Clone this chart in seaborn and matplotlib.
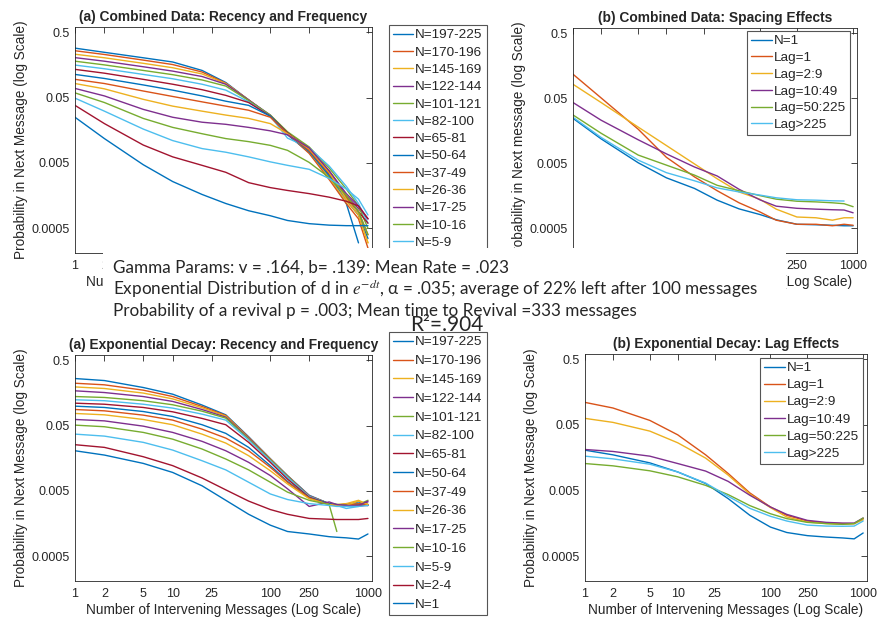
import numpy as np
import pandas as pd
import seaborn as sns
import matplotlib.pyplot as plt
from matplotlib.patches import Rectangle
from matplotlib.ticker import NullLocator

nan = np.nan

# x positions (number of intervening messages)
x_grid = [1, 2, 5, 10, 20, 35, 60, 100, 150, 250, 400, 600, 800, 1000]
x_grid_exp = [1, 2, 5, 10, 20, 35, 60, 100, 150, 250, 400, 480, 600, 800, 1000]

groups = ["N=197-225", "N=170-196", "N=145-169", "N=122-144", "N=101-121",
          "N=82-100", "N=65-81", "N=50-64", "N=37-49", "N=26-36", "N=17-25",
          "N=10-16", "N=5-9", "N=2-4", "N=1"]
lag_groups = ["N=1", "Lag=1", "Lag=2:9", "Lag=10:49", "Lag=50:225", "Lag>225"]

# (a) combined data: recency and frequency
rec_n197 = [0.285, 0.246, 0.203, 0.175, 0.13, 0.085, 0.046, 0.026, 0.0135, 0.0072, 0.0030, 0.0012, 0.0003, nan]
rec_n170 = [0.26, 0.228, 0.187, 0.16, 0.123, 0.083, 0.046, 0.026, 0.014, 0.0070, 0.0028, 0.0012, 0.0007, 0.00025]
rec_n145 = [0.23, 0.203, 0.167, 0.143, 0.115, 0.082, 0.046, 0.026, 0.014, 0.0075, 0.0030, 0.0013, 0.0008, 0.0003]
rec_n122 = [0.204, 0.18, 0.148, 0.127, 0.105, 0.08, 0.046, 0.027, 0.0145, 0.0085, 0.0038, 0.0016, 0.0010, 0.0007]
rec_n101 = [0.18, 0.158, 0.13, 0.112, 0.093, 0.075, 0.045, 0.027, 0.015, 0.0088, 0.0042, 0.0020, 0.0011, 0.0005]
rec_n82 = [0.157, 0.138, 0.113, 0.097, 0.08, 0.065, 0.043, 0.026, 0.012, 0.0085, 0.0045, 0.0022, 0.0012, 0.0006]
rec_n65 = [0.135, 0.118, 0.095, 0.08, 0.066, 0.054, 0.042, 0.026, 0.0145, 0.0078, 0.0034, 0.0015, 0.0009, 0.0006]
rec_n50 = [0.113, 0.098, 0.078, 0.065, 0.053, 0.044, 0.038, 0.026, 0.014, 0.0075, 0.0032, 0.0014, 0.0008, 0.00035]
rec_n37 = [0.095, 0.082, 0.063, 0.052, 0.043, 0.037, 0.032, 0.025, 0.014, 0.0078, 0.0035, 0.0015, 0.0009, 0.0004]
rec_n26 = [0.082, 0.068, 0.047, 0.037, 0.031, 0.027, 0.024, 0.020, 0.014, 0.0082, 0.0036, 0.0014, 0.0008, 0.0003]
rec_n17 = [0.069, 0.053, 0.033, 0.025, 0.021, 0.0195, 0.0175, 0.0155, 0.0135, 0.0085, 0.0038, 0.0017, 0.0011, 0.0007]
rec_n10 = [0.059, 0.042, 0.024, 0.0175, 0.014, 0.0118, 0.0106, 0.0093, 0.0078, 0.0051, 0.0030, 0.0016, 0.0009, 0.0004]
rec_n5 = [0.049, 0.031, 0.0165, 0.011, 0.0083, 0.0073, 0.0062, 0.0052, 0.0046, 0.0040, 0.0029, 0.0020, 0.0014, 0.0008]
rec_n2 = [0.038, 0.020, 0.0094, 0.0062, 0.0046, 0.0036, 0.0025, 0.0021, 0.0019, 0.0017, 0.0015, 0.0013, 0.0011, 0.0007]
rec_n1 = [0.025, 0.0118, 0.0047, 0.0026, 0.00165, 0.0012, 0.00093, 0.00078, 0.00066, 0.00059, 0.00056, 0.00055, 0.00055, 0.00055]

# (b) combined data: spacing effects
sp_n1 = [0.0246, 0.0119, 0.0051, 0.0030, 0.00206, 0.00136, 0.0010, 0.00082, 0.00068, 0.00058, 0.00057, 0.00056, 0.00055, 0.00055]
sp_lag1 = [0.117, 0.0506, 0.0167, 0.0062, 0.0031, 0.0019, 0.00124, 0.0009, 0.00067, 0.00058, 0.00058, 0.00055, 0.00058, 0.00056]
sp_lag2 = [0.082, 0.043, 0.018, 0.0094, 0.0049, 0.0029, 0.00182, 0.00141, 0.00099, 0.00075, 0.00073, 0.00067, 0.00073, 0.00073]
sp_lag10 = [0.043, 0.023, 0.0115, 0.0070, 0.0044, 0.0032, 0.0020, 0.00138, 0.0011, 0.00102, 0.00099, 0.00097, 0.00096, 0.00087]
sp_lag50 = [0.0277, 0.0145, 0.0067, 0.0047, 0.0033, 0.0023, 0.0019, 0.0016, 0.00141, 0.00131, 0.00128, 0.00124, 0.0012, 0.00108]
sp_lag225 = [0.0255, 0.0125, 0.0056, 0.0036, 0.0027, 0.0021, 0.00182, 0.00163, 0.00148, 0.00138, 0.00136, 0.00133, 0.00132, nan]

# (a) exponential decay model: recency and frequency
exp_n197 = [0.262, 0.244, 0.191, 0.151, 0.103, 0.073, 0.0337, 0.0156, 0.0086, 0.0043, 0.0032, 0.0031, 0.0031, 0.0034, 0.0031]
exp_n170 = [0.222, 0.210, 0.174, 0.139, 0.098, 0.0714, 0.033, 0.0154, 0.0085, 0.0042, 0.0032, 0.0030, 0.0032, 0.0031, 0.0031]
exp_n145 = [0.195, 0.1845, 0.157, 0.128, 0.0935, 0.0698, 0.0322, 0.0152, 0.0085, 0.0042, 0.0032, 0.0031, 0.0032, 0.0036, 0.0031]
exp_n122 = [0.170, 0.160, 0.139, 0.117, 0.088, 0.0673, 0.0318, 0.015, 0.0084, 0.0042, 0.0032, 0.0030, 0.0030, 0.0031, 0.0034]
exp_n101 = [0.139, 0.1345, 0.120, 0.104, 0.083, 0.065, 0.031, 0.0149, 0.0083, 0.0041, 0.0032, 0.0031, 0.0030, 0.0031, 0.0036]
exp_n82 = [0.124, 0.120, 0.106, 0.0925, 0.0748, 0.0606, 0.030, 0.0145, 0.0081, 0.0041, 0.0032, 0.0030, 0.0027, 0.0029, 0.0031]
exp_n65 = [0.110, 0.106, 0.0946, 0.0812, 0.0643, 0.0515, 0.0277, 0.0137, 0.0076, 0.0040, 0.0032, 0.0030, 0.0030, 0.0030, 0.0030]
exp_n50 = [0.099, 0.0946, 0.082, 0.0689, 0.0515, 0.038, 0.0232, 0.0122, 0.0070, 0.0039, 0.0032, 0.0030, 0.0030, 0.0032, 0.0030]
exp_n37 = [0.088, 0.084, 0.0722, 0.0606, 0.0441, 0.0322, 0.0206, 0.0115, 0.0068, 0.0039, 0.0031, 0.0030, 0.0030, 0.0032, 0.0031]
exp_n26 = [0.0766, 0.073, 0.062, 0.0515, 0.037, 0.027, 0.0173, 0.0102, 0.0064, 0.0038, 0.0031, 0.0030, 0.0030, 0.0035, 0.0031]
exp_n17 = [0.062, 0.059, 0.049, 0.0393, 0.0287, 0.0206, 0.0137, 0.0086, 0.0054, 0.0029, 0.0034, 0.0031, 0.0030, 0.0030, 0.0035]
exp_n10 = [0.0508, 0.048, 0.0393, 0.031, 0.0219, 0.0154, 0.0105, 0.0068, 0.0048, 0.0036, 0.0031, 0.0012, nan, nan, nan]
exp_n5 = [0.037, 0.0345, 0.0277, 0.0211, 0.0145, 0.0105, 0.0068, 0.0045, 0.0037, 0.0032, 0.0030, 0.0029, 0.0029, 0.0029, 0.0030]
exp_n2 = [0.0255, 0.0232, 0.0167, 0.0122, 0.0079, 0.0052, 0.0035, 0.0026, 0.0022, 0.0019, 0.00185, 0.00183, 0.00183, 0.00183, 0.0019]
exp_n1 = [0.0206, 0.0177, 0.0132, 0.0096, 0.0060, 0.0036, 0.0022, 0.0015, 0.0012, 0.0011, 0.0010, 0.00098, 0.00096, 0.00092, 0.0011]

# (b) exponential decay model: lag effects
lag_n1 = [0.0206, 0.0175, 0.0132, 0.0096, 0.0064, 0.00377, 0.0021, 0.00139, 0.00115, 0.00103, 0.00098, 0.00095, 0.00092, 0.00113]
lag_1 = [0.110, 0.0904, 0.0585, 0.0353, 0.0175, 0.0091, 0.0046, 0.00281, 0.0021, 0.00172, 0.0016, 0.00157, 0.00157, 0.00187]
lag_2 = [0.0628, 0.0546, 0.0402, 0.0267, 0.0156, 0.0086, 0.0044, 0.00275, 0.00198, 0.00166, 0.00157, 0.00153, 0.00157, 0.0018]
lag_10 = [0.0211, 0.0197, 0.0167, 0.0129, 0.0099, 0.0069, 0.00424, 0.00281, 0.00217, 0.00176, 0.00164, 0.0016, 0.0016, 0.00191]
lag_50 = [0.0129, 0.0119, 0.010, 0.0081, 0.006, 0.00434, 0.00295, 0.00222, 0.00187, 0.00164, 0.00157, 0.00153, 0.00157, 0.00191]
lag_225 = [0.0167, 0.0152, 0.0126, 0.0096, 0.0065, 0.0041, 0.00268, 0.00203, 0.00172, 0.00149, 0.00144, 0.00143, 0.00144, 0.00172]

xticks = [1, 2, 5, 10, 25, 100, 250, 1000]
yticks = [0.0005, 0.005, 0.05, 0.5]
ytick_labels = ["0.0005", "0.005", "0.05", "0.5"]

matlab = ["#0072BD", "#D95319", "#EDB120", "#7E2F8E", "#77AC30", "#4DBEEE", "#A2142F"]

W, H = 881, 620


def long_frame(x, series, labels):
    parts = []
    for vals, lab in zip(series, labels):
        parts.append(pd.DataFrame({"x": x, "p": vals, "group": lab}))
    return pd.concat(parts).dropna()


def fig_rect(left, top, right, bottom):
    return [left / W, 1 - bottom / H, (right - left) / W, (bottom - top) / H]


def draw_panel(ax, df, labels, title, ylabel):
    pal = [matlab[i % 7] for i in range(len(labels))]
    sns.lineplot(data=df, x="x", y="p", hue="group", hue_order=labels,
                 palette=pal, linewidth=1.0, errorbar=None, ax=ax)
    ax.set(xscale="log", yscale="log", xlim=(1, 1100), ylim=(0.00021, 0.6))
    ax.set_xticks(xticks)
    ax.set_xticklabels([str(t) for t in xticks])
    ax.set_yticks(yticks)
    ax.set_yticklabels(ytick_labels)
    ax.xaxis.set_minor_locator(NullLocator())
    ax.yaxis.set_minor_locator(NullLocator())
    ax.tick_params(direction="in", top=True, right=True, length=4, width=0.6,
                   labelsize=9, colors="#262626")
    ax.tick_params(axis="y", pad=4)
    ax.tick_params(axis="x", pad=5)
    for s in ax.spines.values():
        s.set_visible(True)
        s.set_color("#262626")
        s.set_linewidth(0.6)
    ax.set_title(title, fontsize=9.9, fontweight="bold", pad=4)
    ax.set_ylabel(ylabel, fontsize=9.8, color="#262626", labelpad=2)
    ax.set_xlabel("Number of Intervening Messages (Log Scale)", fontsize=9.8,
                  color="#262626", labelpad=2)


def put_legend(ax, loc, anchor, spacing):
    old = ax.get_legend()
    handles = old.legend_handles
    labels = [t.get_text() for t in old.get_texts()]
    old.remove()
    leg = ax.legend(handles, labels, loc=loc, bbox_to_anchor=anchor,
                    bbox_transform=fig.transFigure, borderaxespad=0,
                    fontsize=9.7, labelspacing=spacing, handlelength=1.5,
                    handletextpad=0.15, borderpad=0.3, fancybox=False,
                    framealpha=1, edgecolor="#555555")
    leg.get_frame().set_linewidth(0.8)
    for h in leg.legend_handles:
        h.set_linewidth(1.0)


def hide_ticklabels(ax, keep):
    # labels that sit completely under the pasted text box
    for lab, t in zip(ax.get_xticklabels(), xticks):
        if t not in keep:
            lab.set_visible(False)


sns.set_theme(style="white")
plt.rcParams["font.family"] = ["Liberation Sans", "DejaVu Sans"]
plt.rcParams["mathtext.fontset"] = "stix"

fig = plt.figure(figsize=(W / 100, H / 100), dpi=100)

ax_tl = fig.add_axes(fig_rect(75, 27, 372, 253))
ax_tr = fig.add_axes(fig_rect(573, 28, 857, 253))
ax_bl = fig.add_axes(fig_rect(75, 355, 372, 581))
ax_br = fig.add_axes(fig_rect(585, 354, 867, 581))

rec = [rec_n197, rec_n170, rec_n145, rec_n122, rec_n101, rec_n82, rec_n65,
       rec_n50, rec_n37, rec_n26, rec_n17, rec_n10, rec_n5, rec_n2, rec_n1]
spacing = [sp_n1, sp_lag1, sp_lag2, sp_lag10, sp_lag50, sp_lag225]
expo = [exp_n197, exp_n170, exp_n145, exp_n122, exp_n101, exp_n82, exp_n65,
        exp_n50, exp_n37, exp_n26, exp_n17, exp_n10, exp_n5, exp_n2, exp_n1]
lags = [lag_n1, lag_1, lag_2, lag_10, lag_50, lag_225]

draw_panel(ax_tl, long_frame(x_grid, rec, groups), groups,
           "(a) Combined Data: Recency and Frequency",
           "Probability in Next Message (log Scale)")
draw_panel(ax_tr, long_frame(x_grid, spacing, lag_groups), lag_groups,
           "(b) Combined Data: Spacing Effects",
           "Probability in Next message (log Scale)")
draw_panel(ax_bl, long_frame(x_grid_exp, expo, groups), groups,
           "(a) Exponential Decay: Recency and Frequency",
           "Probability in Next Message (log Scale)")
draw_panel(ax_br, long_frame(x_grid, lags, lag_groups), lag_groups,
           "(b) Exponential Decay: Lag Effects",
           "Probability in Next Message (log Scale)")

hide_ticklabels(ax_tl, [1, 2])
hide_ticklabels(ax_tr, [250, 1000])

put_legend(ax_tl, "upper left", (389 / W, 1 - 25 / H), 0.36)
put_legend(ax_bl, "upper left", (389 / W, 1 - 332 / H), 0.47)
put_legend(ax_tr, "upper right", (850 / W, 1 - 31 / H), 0.32)
put_legend(ax_br, "upper right", (863 / W, 1 - 358 / H), 0.34)

# pasted text box over the middle of the figure
fig.add_artist(Rectangle((103 / W, 1 - 331 / H), (786 - 103) / W, (331 - 248) / H,
                         transform=fig.transFigure, facecolor="white",
                         edgecolor="none", zorder=10))
note_font = ["Lato", "DejaVu Sans"]
fig.text(113 / W, 1 - 268 / H, "Gamma Params: v = .164, b= .139: Mean Rate = .023",
         ha="left", va="center", fontsize=12.3, family=note_font, zorder=11)
fig.text(113 / W, 1 - 289 / H,
         "Exponential Distribution of d in $e^{-dt}$, α = .035; average of 22% left after 100 messages",
         ha="left", va="center", fontsize=12.3, family=note_font, zorder=11)
fig.text(113 / W, 1 - 311 / H,
         "Probability of a revival p = .003; Mean time to Revival =333 messages",
         ha="left", va="center", fontsize=12.3, family=note_font, zorder=11)
fig.text(447 / W, 1 - 325 / H, "R²=.904", ha="center", va="center",
         fontsize=15, family=note_font, zorder=11)

fig.savefig("out.png", dpi=100)
